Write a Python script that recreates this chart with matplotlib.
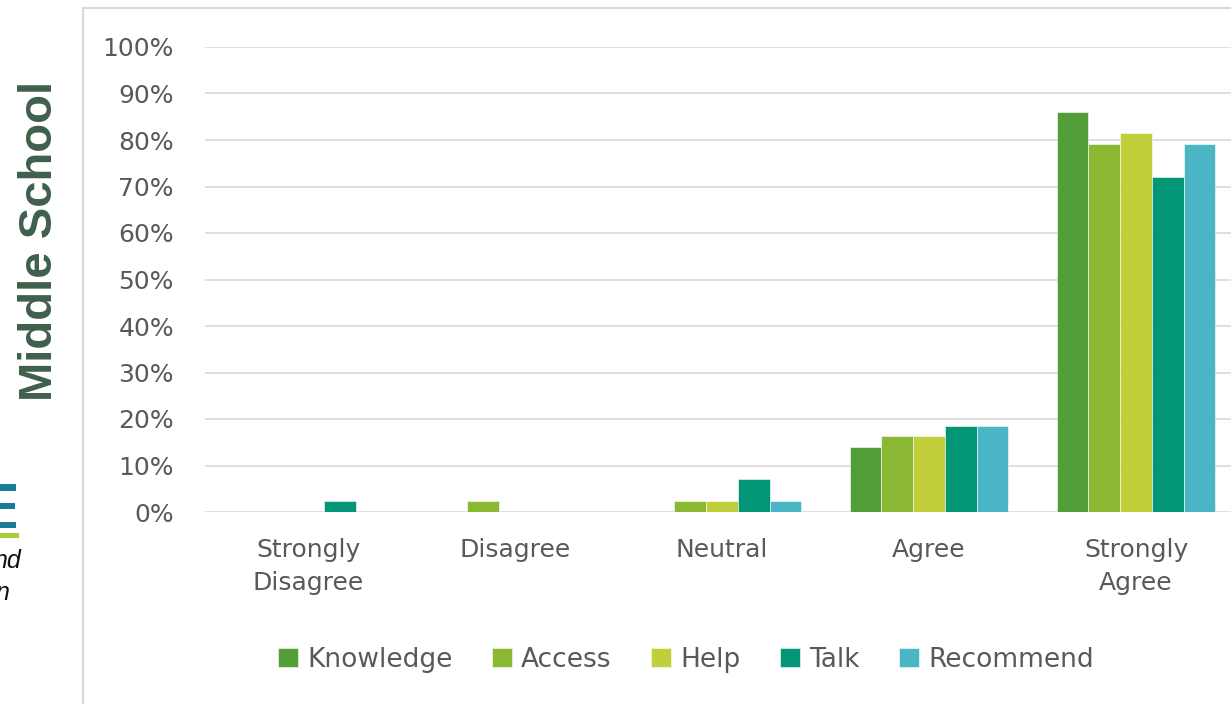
import matplotlib
matplotlib.use("Agg")
import matplotlib.pyplot as plt
import numpy as np
from matplotlib.patches import Rectangle

categories = ["Strongly\nDisagree", "Disagree", "Neutral", "Agree", "Strongly\nAgree"]
series = ["Knowledge", "Access", "Help", "Talk", "Recommend"]
knowledge = [0.0, 0.0, 0.0, 14.0, 86.0]
access = [0.0, 2.3, 2.3, 16.3, 79.1]
help_ = [0.0, 0.0, 2.3, 16.3, 81.4]
talk = [2.3, 0.0, 7.0, 18.6, 72.1]
recommend = [0.0, 0.0, 2.3, 18.6, 79.1]
colors = ["#549E39", "#8AB833", "#C0CF3A", "#029676", "#4AB5C4"]

W, H = 1231, 704
fig = plt.figure(figsize=(W / 100, H / 100), dpi=100)
plt.rcParams['font.family'] = ['DejaVu Sans']

# chart frame (partly off the picture)
fig.patches.append(Rectangle((83 / W, -0.1), 1.2, 1 - 8 / H + 0.1, transform=fig.transFigure,
                             fill=False, edgecolor="#d9d9d9", linewidth=1.5, zorder=0))

ax = fig.add_axes([204.5 / W, (H - 512) / H, 1035 / W, 465 / H])
ax.set_xlim(-0.5, 4.5)
ax.set_ylim(0, 100)

x = np.arange(len(categories))
bw = 0.153
for i, (name, vals) in enumerate(zip(series, [knowledge, access, help_, talk, recommend])):
    ax.bar(x + (i - 2) * bw, vals, bw, color=colors[i], label=name,
           edgecolor="white", linewidth=0.4, zorder=3)

ax.set_yticks(range(0, 101, 10))
ax.set_yticklabels([f"{v}%" for v in range(0, 101, 10)])
ax.set_xticks(x)
ax.set_xticklabels(categories, linespacing=1.45)
ax.grid(axis="y", color="#d9d9d9", linewidth=1.2, zorder=0)
for s in ax.spines.values():
    s.set_visible(False)
ax.tick_params(axis="both", length=0, labelsize=18, labelcolor="#595959")
ax.tick_params(axis="y", pad=22)
ax.tick_params(axis="x", pad=19)

fig.legend(loc="center", bbox_to_anchor=(686 / W, 1 - 660 / H), ncol=5, frameon=False,
           fontsize=19, labelcolor="#595959", handlelength=0.75, handleheight=0.75,
           handletextpad=0.35, columnspacing=1.5)

# side title
fig.text(40 / W, 1 - 241 / H, "Middle School", rotation=90, ha="center", va="center",
         fontsize=34, fontweight="bold", family=["Liberation Sans", "DejaVu Sans"],
         color="#3F5F4C")

# cropped logo on the left edge
for y0, y1, x1, c in [(484, 491, 16, "#1B7A97"), (503, 509, 15, "#1B7A97"),
                      (522, 528, 16, "#1B7A97"), (533, 538, 19, "#A6CE39")]:
    fig.patches.append(Rectangle((0, 1 - y1 / H), x1 / W, (y1 - y0) / H,
                                 transform=fig.transFigure, color=c, linewidth=0))
fig.text(21 / W, 1 - 568 / H, "nd", ha="right", va="baseline", fontsize=18,
         style="italic", family="Liberation Sans", color="#111111")
fig.text(9 / W, 1 - 600 / H, "n", ha="right", va="baseline", fontsize=18,
         style="italic", family="Liberation Sans", color="#111111")

fig.savefig("out.png", dpi=100)
